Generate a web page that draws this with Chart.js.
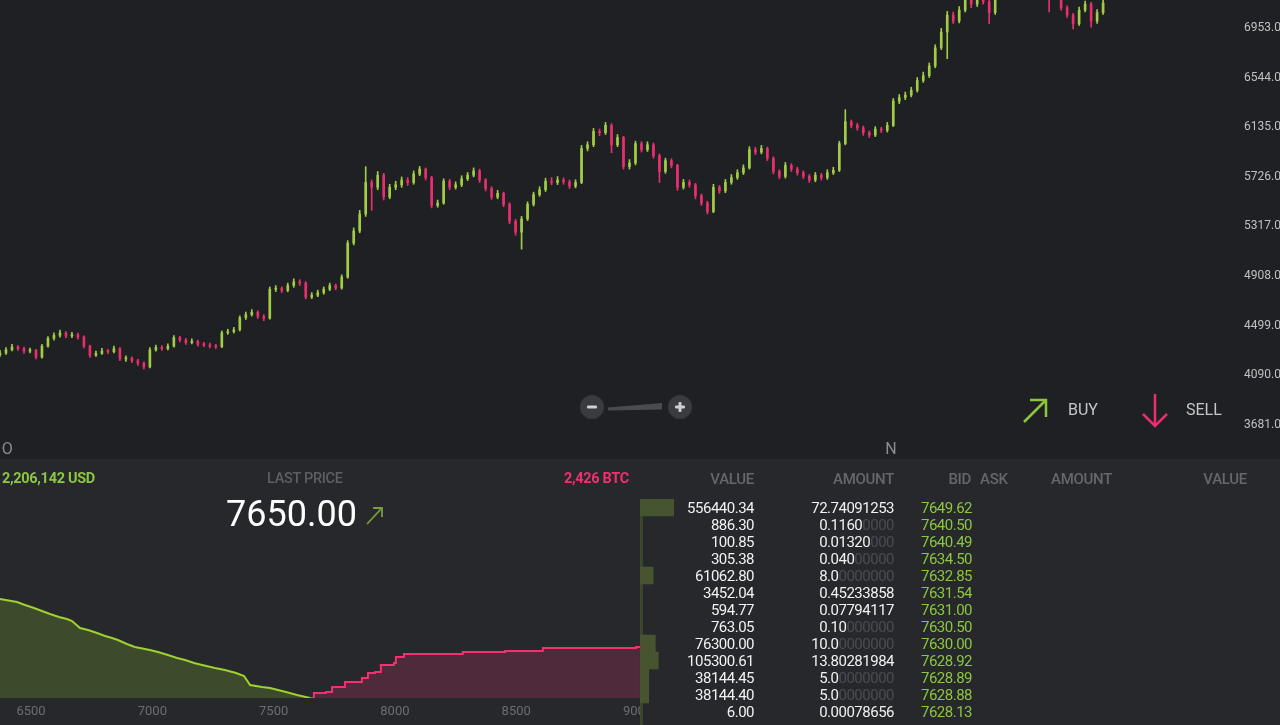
<!DOCTYPE html>
<html>
<head>
<meta charset="utf-8">
<script src="https://cdn.jsdelivr.net/npm/chart.js@4.4.0/dist/chart.umd.min.js"></script>
<style>
    html, body { margin: 0; padding: 0; width: 1280px; height: 725px; overflow: hidden; background: #1f2023; font-family: Roboto, sans-serif; }
    #topo { position: absolute; left: 0; top: 0; width: 1280px; height: 459px; background: #1f2023; overflow: hidden; }
    #baixo { position: absolute; left: 0; top: 459px; width: 1280px; height: 266px; background: #26282c; }
    #graficoVelas { position: absolute; left: 0; top: 0; }
    #graficoProfundidade { position: absolute; left: 0; top: 530px; z-index: 1; }
    #livro { position: absolute; left: 640px; top: 459px; width: 640px; height: 266px; background: #26282c; z-index: 2; }
    #faixa { position: absolute; left: 640px; top: 499px; width: 3px; height: 226px; background: #39462a; z-index: 3; }
    #graficoLivro { position: absolute; left: 640px; top: 499px; z-index: 3; }
    .t { position: absolute; white-space: nowrap; line-height: 1; transform: translateY(-50%); z-index: 4; }
    .cab { color: #65676b; font-size: 15px; font-weight: 500; letter-spacing: -0.3px; }
    .lin { color: #f1f1f1; font-size: 15px; letter-spacing: -0.5px; text-align: right; }
    .lance { color: #8dc63f; font-size: 15px; letter-spacing: -0.5px; }
    .apagado { color: #4a4c51; }
    .bola { position: absolute; width: 24px; height: 24px; border-radius: 50%; background: #3a3b3f; z-index: 4; }
    svg { position: absolute; left: 0; top: 0; z-index: 4; }
</style>
</head>
<body>
<div id="topo"><canvas id="graficoVelas" width="1300" height="458"></canvas></div>
<div id="baixo"></div>
<canvas id="graficoProfundidade" width="670" height="195"></canvas>
<div id="livro"></div>
<div id="faixa"></div>
<canvas id="graficoLivro" width="34" height="221"></canvas>

<div class="bola" style="left:580px;top:395px"></div>
<div class="bola" style="left:668px;top:395px"></div>
<svg width="1280" height="725">
    <rect x="587" y="405.5" width="10" height="3" rx="1" fill="#cfcfd1"/>
    <rect x="675" y="405.5" width="10" height="3" rx="1" fill="#cfcfd1"/>
    <rect x="678.5" y="402" width="3" height="10" rx="1" fill="#cfcfd1"/>
    <polygon points="608,407.5 662,403 662,409.5 608,410.5" fill="#4a4b4f"/>
    <polyline points="1024,422 1046,400" stroke="#8dc63f" stroke-width="2.5" fill="none"/>
    <polyline points="1030,400 1046,400 1046,417" stroke="#8dc63f" stroke-width="2.5" fill="none"/>
    <polyline points="1155,394 1155,426" stroke="#ec2d6e" stroke-width="2.5" fill="none"/>
    <polyline points="1143,414 1155,426 1167,414" stroke="#ec2d6e" stroke-width="2.5" fill="none"/>
    <polyline points="367,524 382,508" stroke="#7c9b3c" stroke-width="1.8" fill="none"/>
    <polyline points="373,508 382,508 382,517" stroke="#7c9b3c" stroke-width="1.8" fill="none"/>
</svg>
<div class="t" style="left:1068px;top:410px;color:#c5c6c8;font-size:16px">BUY</div>
<div class="t" style="left:1186px;top:410px;color:#c5c6c8;font-size:16px">SELL</div>

<div class="t" style="left:2px;top:479px;color:#8dc63f;font-size:14.5px;font-weight:700;letter-spacing:-0.3px">2,206,142 USD</div>
<div class="t" style="left:267px;top:479px;color:#5d5f63;font-size:14.5px;font-weight:500;letter-spacing:-0.3px">LAST PRICE</div>
<div class="t" style="right:651px;top:479px;color:#f0306e;font-size:14.5px;font-weight:700;letter-spacing:-0.3px">2,426 BTC</div>
<div class="t" style="left:226px;top:514px;color:#ffffff;font-size:36px">7650.00</div>

<div class="t cab" style="right:526px;top:479px">VALUE</div>
<div class="t cab" style="right:386px;top:479px">AMOUNT</div>
<div class="t cab" style="right:309px;top:479px">BID</div>
<div class="t cab" style="left:980px;top:479px">ASK</div>
<div class="t cab" style="left:1051px;top:479px">AMOUNT</div>
<div class="t cab" style="right:33px;top:479px">VALUE</div>
<div id="linhas"></div>

<script>
// velas (um candle por periodo)
var abertura = [4260,4274,4300,4323,4310,4290,4295,4240,4330,4395,
    4420,4438,4415,4425,4405,4330,4255,4270,4290,4285,
    4310,4225,4230,4210,4190,4160,4300,4320,4310,4330,
    4400,4380,4360,4370,4345,4340,4330,4325,4440,4450,
    4465,4565,4590,4610,4575,4560,4800,4805,4790,4830,
    4860,4850,4735,4750,4770,4800,4830,4810,4900,5180,
    5280,5420,5680,5640,5740,5560,5640,5660,5700,5680,
    5750,5790,5720,5490,5510,5690,5640,5660,5710,5740,
    5775,5700,5630,5560,5590,5500,5360,5270,5380,5500,
    5580,5620,5690,5680,5700,5685,5650,5680,5960,5990,
    6100,6090,6150,5990,6050,5810,5840,6000,5950,5990,
    5900,5770,5860,5820,5640,5680,5660,5570,5510,5440,
    5640,5610,5680,5720,5760,5800,5950,5930,5960,5880,
    5770,5730,5820,5790,5760,5730,5700,5740,5720,5760,
    5780,6000,6180,6150,6130,6090,6070,6120,6110,6150,
    6350,6380,6400,6440,6520,6560,6640,6790,6920,7060,
    7010,7100,7200,7150,7190,7170,7080,7230,7300,7340,
    7400,7450,7380,7430,7360,7330,7250,7260,7120,7060,
    6990,7100,7150,7010,7080];
var maxima = [4295,4318,4345,4335,4322,4315,4305,4345,4410,4440,
    4462,4450,4445,4438,4415,4340,4290,4312,4305,4330,
    4318,4250,4242,4222,4200,4318,4340,4335,4350,4418,
    4412,4395,4390,4380,4362,4355,4345,4455,4470,4485,
    4580,4612,4632,4622,4590,4818,4830,4820,4850,4885,
    4878,4862,4772,4792,4818,4850,4842,4918,5200,5305,
    5450,5810,5700,5770,5755,5665,5690,5725,5720,5775,
    5812,5800,5730,5535,5710,5705,5685,5735,5762,5800,
    5790,5712,5645,5615,5600,5512,5375,5400,5520,5600,
    5645,5715,5720,5728,5718,5700,5702,5985,6015,6125,
    6120,6175,6165,6075,6060,5868,6020,6015,6015,6005,
    5915,5880,5875,5830,5705,5700,5672,5585,5525,5665,
    5655,5705,5745,5785,5825,5975,5970,5985,5972,5892,
    5785,5845,5835,5805,5775,5745,5762,5755,5785,5805,
    6020,6280,6195,6168,6145,6105,6140,6135,6175,6372,
    6405,6425,6465,6545,6590,6665,6815,6950,7090,7085,
    7130,7230,7220,7215,7225,7185,7255,7330,7370,7425,
    7480,7470,7455,7445,7375,7345,7285,7275,7135,7075,
    7125,7175,7165,7105,7185];
var minima = [4245,4262,4290,4295,4270,4275,4225,4232,4322,4380,
    4405,4398,4400,4388,4315,4238,4245,4262,4268,4275,
    4210,4205,4195,4172,4142,4150,4288,4295,4300,4322,
    4365,4345,4348,4330,4325,4315,4310,4318,4428,4438,
    4455,4550,4578,4558,4540,4552,4780,4772,4778,4815,
    4830,4720,4722,4738,4758,4788,4795,4800,4890,5165,
    5265,5400,5450,5620,5535,5545,5620,5640,5655,5665,
    5735,5700,5470,5475,5500,5620,5625,5645,5695,5725,
    5680,5610,5540,5545,5480,5340,5245,5130,5365,5485,
    5565,5605,5660,5662,5665,5630,5635,5670,5940,5975,
    6065,6075,5925,5975,5790,5790,5825,5930,5935,5880,
    5680,5755,5800,5615,5625,5640,5545,5490,5420,5430,
    5590,5595,5665,5705,5745,5790,5910,5915,5860,5750,
    5710,5715,5770,5740,5712,5680,5685,5700,5705,5745,
    5770,5990,6130,6110,6068,6050,6058,6090,6095,6140,
    6330,6362,6385,6425,6505,6545,6625,6775,6700,6990,
    6995,7085,7120,7130,7150,6990,7065,7215,7285,7325,
    7385,7360,7365,7340,7300,7085,7230,7100,7040,6945,
    6975,7085,6960,6990,7065];
var fechamento = [4274,4300,4323,4310,4290,4295,4240,4330,4395,4420,
    4438,4415,4425,4405,4330,4255,4270,4290,4285,4310,
    4225,4230,4210,4190,4160,4300,4320,4310,4330,4400,
    4380,4360,4370,4345,4340,4330,4325,4440,4450,4465,
    4565,4590,4610,4575,4560,4800,4805,4790,4830,4860,
    4850,4735,4750,4770,4800,4830,4810,4900,5180,5280,
    5420,5680,5640,5740,5560,5640,5660,5700,5680,5750,
    5790,5720,5490,5510,5690,5640,5660,5710,5740,5775,
    5700,5630,5560,5590,5500,5360,5270,5380,5500,5580,
    5620,5690,5680,5700,5685,5650,5680,5960,5990,6100,
    6090,6150,5990,6050,5810,5840,6000,5950,5990,5900,
    5770,5860,5820,5640,5680,5660,5570,5510,5440,5640,
    5610,5680,5720,5760,5800,5950,5930,5960,5880,5770,
    5730,5820,5790,5760,5730,5700,5740,5720,5760,5780,
    6000,6180,6150,6130,6090,6070,6120,6110,6150,6350,
    6380,6400,6440,6520,6560,6640,6790,6920,7060,7010,
    7100,7200,7150,7190,7170,7080,7230,7300,7340,7400,
    7450,7380,7430,7360,7330,7250,7260,7120,7060,6990,
    7100,7150,7010,7080,7160];

var precosEixo = [3681, 4090, 4499, 4908, 5317, 5726, 6135, 6544, 6953];
var rotulosMes = ['O', 'N'];
var inicioMes = [1.2, 148.6];

// profundidade (BTC acumulado)
var precosBid = [6372,6442,6475,6512,6545,6578,6615,6648,6669,6702,6735,6772,6805,6834,6858,6895,6928,
    6990,7023,7064,7102,7135,7172,7205,7258,7299,7345,7378,7403,7452,7485,7551,7596,7650];
var profBid = [297,288,279,270,261,252,243,237,231,210,204,195,186,180,174,162,153,
    144,138,129,120,114,105,99,90,84,75,66,39,33,30,18,9,0];
var precosAsk = [7650,7666,7716,7741,7794,7864,7889,7918,7942,7996,8004,8037,8107,8280,8454,8610,8800,8994,9010];
var profAsk = [0,15,18,33,48,60,75,78,99,105,123,132,132,138,141,150,150,153,156];
var ticksProf = [6500, 7000, 7500, 8000, 8500, 9000];

// livro de ofertas
var valores = [556440.34, 886.30, 100.85, 305.38, 61062.80, 3452.04, 594.77, 763.05, 76300.00, 105300.61, 38144.45, 38144.40, 6.00];
var quantidades = [72.74091253, 0.116, 0.0132, 0.04, 8, 0.45233858, 0.07794117, 0.1, 10, 13.80281984, 5, 5, 0.00078656];
var lances = [7649.62, 7640.50, 7640.49, 7634.50, 7632.85, 7631.54, 7631.00, 7630.50, 7630.00, 7628.92, 7628.89, 7628.88, 7628.13];

var corAlta = '#a3cc45';
var corBaixa = '#ea2f6e';

Chart.defaults.font.family = 'Roboto';

// tira o espaco extra que o Chart.js reserva para os rotulos das pontas
function semPadding(s) {
    s.paddingTop = 0;
    s.paddingBottom = 0;
    s.paddingLeft = 0;
    s.paddingRight = 0;
}

var cores = fechamento.map((c, i) => c >= abertura[i] ? corAlta : corBaixa);

new Chart(document.getElementById('graficoVelas'), {
    type: 'bar',
    data: {
        datasets: [
            {
                label: 'pavio',
                data: fechamento.map((c, i) => ({ x: i, y: [minima[i], maxima[i]] })),
                backgroundColor: cores,
                barThickness: 1,
                grouped: false
            },
            {
                label: 'corpo',
                data: fechamento.map((c, i) => ({ x: i, y: [abertura[i], c] })),
                backgroundColor: cores,
                barThickness: 2,
                minBarLength: 1,
                grouped: false
            }
        ]
    },
    options: {
        responsive: false,
        animation: false,
        layout: { padding: 0 },
        plugins: { legend: { display: false }, tooltip: { enabled: false } },
        scales: {
            x: {
                type: 'linear',
                offset: false,
                min: 0,
                max: 206,
                grid: { display: false, drawTicks: false },
                border: { display: false },
                afterBuildTicks: (s) => { s.ticks = inicioMes.map(v => ({ value: v })); },
                afterFit: (s) => { s.height = 20; semPadding(s); },
                ticks: {
                    autoSkip: false,
                    maxRotation: 0,
                    padding: 2,
                    color: '#8b8c90',
                    font: { size: 16 },
                    callback: (v, idx) => rotulosMes[idx]
                }
            },
            y: {
                position: 'right',
                min: 3573,
                max: 7184,
                grid: { display: false, drawTicks: false },
                border: { display: false },
                afterBuildTicks: (s) => { s.ticks = precosEixo.map(v => ({ value: v })); },
                afterFit: (s) => { s.width = 65; semPadding(s); },
                ticks: {
                    padding: 9,
                    color: '#bfc0c2',
                    font: { size: 12 },
                    callback: (v) => v.toFixed(2)
                }
            }
        }
    }
});

new Chart(document.getElementById('graficoProfundidade'), {
    type: 'line',
    data: {
        datasets: [
            {
                label: 'bids',
                data: precosBid.map((p, i) => ({ x: p, y: profBid[i] })),
                borderColor: '#9fd12f',
                backgroundColor: '#3d4a2c',
                borderWidth: 2,
                fill: 'origin',
                pointRadius: 0
            },
            {
                label: 'asks',
                data: precosAsk.map((p, i) => ({ x: p, y: profAsk[i] })),
                borderColor: '#f4306f',
                backgroundColor: '#4e2a3a',
                borderWidth: 2,
                stepped: 'before',
                fill: 'origin',
                pointRadius: 0
            }
        ]
    },
    options: {
        responsive: false,
        animation: false,
        layout: { padding: 0 },
        plugins: { legend: { display: false }, tooltip: { enabled: false } },
        scales: {
            x: {
                type: 'linear',
                min: 6372,
                max: 9134,
                grid: { display: false, drawTicks: false },
                border: { display: false },
                afterBuildTicks: (s) => { s.ticks = ticksProf.map(v => ({ value: v })); },
                afterFit: (s) => { s.height = 27; semPadding(s); },
                ticks: {
                    autoSkip: false,
                    maxRotation: 0,
                    padding: 6,
                    color: '#6b6d72',
                    font: { size: 13 },
                    callback: (v) => String(v)
                }
            },
            y: { display: false, min: 0, max: 504 }
        }
    }
});

new Chart(document.getElementById('graficoLivro'), {
    type: 'bar',
    data: {
        labels: lances.map(String),
        datasets: [{
            data: valores,
            backgroundColor: '#46542f',
            barPercentage: 1,
            categoryPercentage: 1
        }]
    },
    options: {
        indexAxis: 'y',
        responsive: false,
        animation: false,
        layout: { padding: 0 },
        plugins: { legend: { display: false }, tooltip: { enabled: false } },
        scales: {
            x: { type: 'logarithmic', display: false, min: 15000, max: 556440 },
            y: { display: false }
        }
    }
});

var linhas = document.getElementById('linhas');
for (var i = 0; i < lances.length; i++) {
    var y = 508 + 17 * i;
    var texto = quantidades[i].toFixed(8);
    var cortado = texto.replace(/0+$/, '');
    var claro = texto, escuro = '';
    if (cortado !== texto) {
        claro = cortado + '0';
        escuro = texto.slice(claro.length);
    }
    linhas.innerHTML += `<div class="t lin" style="right:526px;top:${y}px">${valores[i].toFixed(2)}</div>`;
    linhas.innerHTML += `<div class="t lin" style="right:386px;top:${y}px">${claro}<span class="apagado">${escuro}</span></div>`;
    linhas.innerHTML += `<div class="t lance" style="left:921px;top:${y}px">${lances[i].toFixed(2)}</div>`;
}
</script>
</body>
</html>
